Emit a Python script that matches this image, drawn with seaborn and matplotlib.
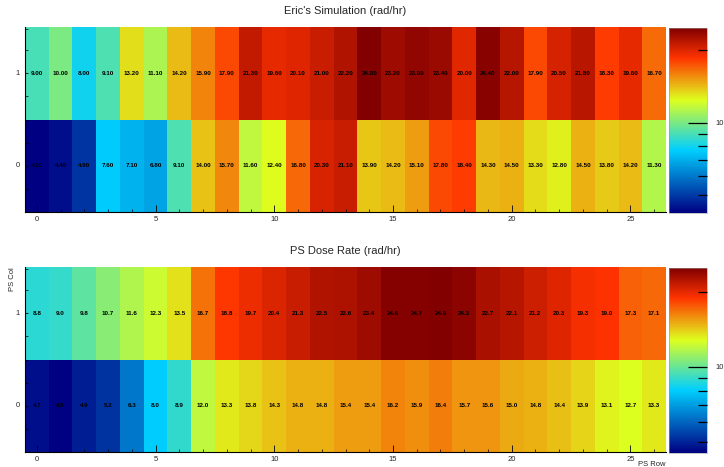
import numpy as np
import pandas as pd
import matplotlib
matplotlib.use("Agg")
import matplotlib.pyplot as plt
import seaborn as sns
from matplotlib.colors import LogNorm, LinearSegmentedColormap
from matplotlib.ticker import FixedLocator, NullFormatter

# ==================== 数据 ====================
ps_rows = list(range(27))

sim_col1 = [9.00, 10.00, 8.00, 9.10, 13.20, 11.10, 14.20, 15.90, 17.90, 21.30, 19.60, 20.10, 21.00,
            22.20, 24.80, 23.20, 23.90, 23.40, 20.00, 24.40, 22.00, 17.90, 20.50, 21.80, 18.30, 19.60, 16.70]
sim_col0 = [4.20, 4.40, 4.90, 7.60, 7.10, 6.80, 9.10, 14.00, 15.70, 11.60, 12.40, 16.80, 20.30,
            21.10, 13.90, 14.20, 15.10, 17.80, 18.40, 14.30, 14.50, 13.30, 12.80, 14.50, 13.80, 14.20, 11.30]

ps_col1 = [8.8, 9.0, 9.8, 10.7, 11.6, 12.3, 13.5, 16.7, 18.8, 19.7, 20.4, 21.3, 22.5,
           22.6, 23.4, 24.6, 24.7, 24.9, 24.3, 22.7, 22.1, 21.2, 20.3, 19.3, 19.0, 17.3, 17.1]
ps_col0 = [4.7, 4.5, 4.9, 5.2, 6.3, 8.0, 8.9, 12.0, 13.3, 13.8, 14.3, 14.8, 14.8,
           15.4, 15.4, 16.2, 15.9, 16.4, 15.7, 15.6, 15.0, 14.8, 14.4, 13.9, 13.1, 12.7, 13.3]

# ==================== 样式 ====================
sns.set_style("white")
plt.rcParams['font.family'] = ['Liberation Sans', 'DejaVu Sans']

# ROOT 风格的渐变色表
root_cmap = LinearSegmentedColormap.from_list("root_grad", [
    (0.00, (0.00, 0.00, 0.51)),
    (0.34, (0.00, 0.81, 1.00)),
    (0.61, (0.87, 1.00, 0.12)),
    (0.84, (1.00, 0.20, 0.00)),
    (1.00, (0.51, 0.00, 0.00)),
])

W, H = 724, 467
fig = plt.figure(figsize=(W / 100, H / 100), dpi=100)


def px_rect(x0, y0, x1, y1):
    return [x0 / W, 1 - y1 / H, (x1 - x0) / W, (y1 - y0) / H]


def draw_map(ax_box, cax_box, col1, col0, fmt, title):
    ax = fig.add_axes(px_rect(*ax_box))
    cax = fig.add_axes(px_rect(*cax_box))
    df = pd.DataFrame([col1, col0], index=[1, 0], columns=ps_rows)
    norm = LogNorm(vmin=df.values.min(), vmax=df.values.max())
    sns.heatmap(df, ax=ax, cbar_ax=cax, cmap=root_cmap, norm=norm,
                annot=True, fmt=fmt,
                annot_kws=dict(size=4.5, weight="bold", color="black"))
    ax.set_axisbelow(False)
    cax.set_axisbelow(False)

    # x 轴
    ax.set_xticks([c + 0.5 for c in range(0, 27, 5)])
    ax.set_xticklabels([str(c) for c in range(0, 27, 5)], rotation=0)
    ax.xaxis.set_minor_locator(FixedLocator([c + 0.5 for c in ps_rows]))
    # y 轴
    ax.set_yticks([0.5, 1.5])
    ax.set_yticklabels(["1", "0"], rotation=0)
    ax.yaxis.set_minor_locator(FixedLocator([0.02, 0.25, 0.75, 1.0, 1.25, 1.75]))
    ax.tick_params(axis="x", which="major", direction="in", length=5, width=0.6,
                   labelsize=5.5, pad=3, bottom=True, color="black")
    ax.tick_params(axis="y", which="major", direction="in", length=2.5, width=0.6,
                   labelsize=5.5, pad=4, left=True, color="black")
    ax.tick_params(axis="both", which="minor", direction="in", length=2, width=0.5,
                   bottom=True, left=True, color="black")
    ax.set_xlabel("")
    ax.set_ylabel("")
    for side in ["left", "bottom"]:
        ax.spines[side].set_visible(True)
        ax.spines[side].set_color("black")
        ax.spines[side].set_linewidth(0.8)
    ax.set_title(title, fontsize=8, pad=9)

    # 颜色条
    cbar = ax.collections[0].colorbar
    cbar.set_ticks([10])
    cbar.set_ticklabels(["10"])
    cax.yaxis.set_minor_locator(FixedLocator([5, 6, 7, 8, 9, 20]))
    cax.yaxis.set_minor_formatter(NullFormatter())
    cax.tick_params(which="major", direction="in", length=13.5, width=0.9,
                    labelsize=5.5, pad=6, color="black", right=True, left=False)
    cax.tick_params(which="minor", direction="in", length=6.5, width=0.9,
                    color="black", right=True, left=False)
    cbar.outline.set_linewidth(0.4)
    cbar.outline.set_edgecolor("#999999")
    return ax


draw_map((25, 27, 666, 212), (669, 28, 707, 213), sim_col1, sim_col0, ".2f",
         "Eric's Simulation (rad/hr)")
draw_map((25, 267, 666, 452), (669, 268, 707, 453), ps_col1, ps_col0, ".1f",
         "PS Dose Rate (rad/hr)")

fig.text(666 / W, 1 - 464 / H, "PS Row", ha="right", va="center", fontsize=5.5)
fig.text(12 / W, 1 - 267 / H, "PS Col", ha="center", va="top", rotation=90, fontsize=5.5)

plt.savefig("out.png", dpi=100)
print("saved out.png")
